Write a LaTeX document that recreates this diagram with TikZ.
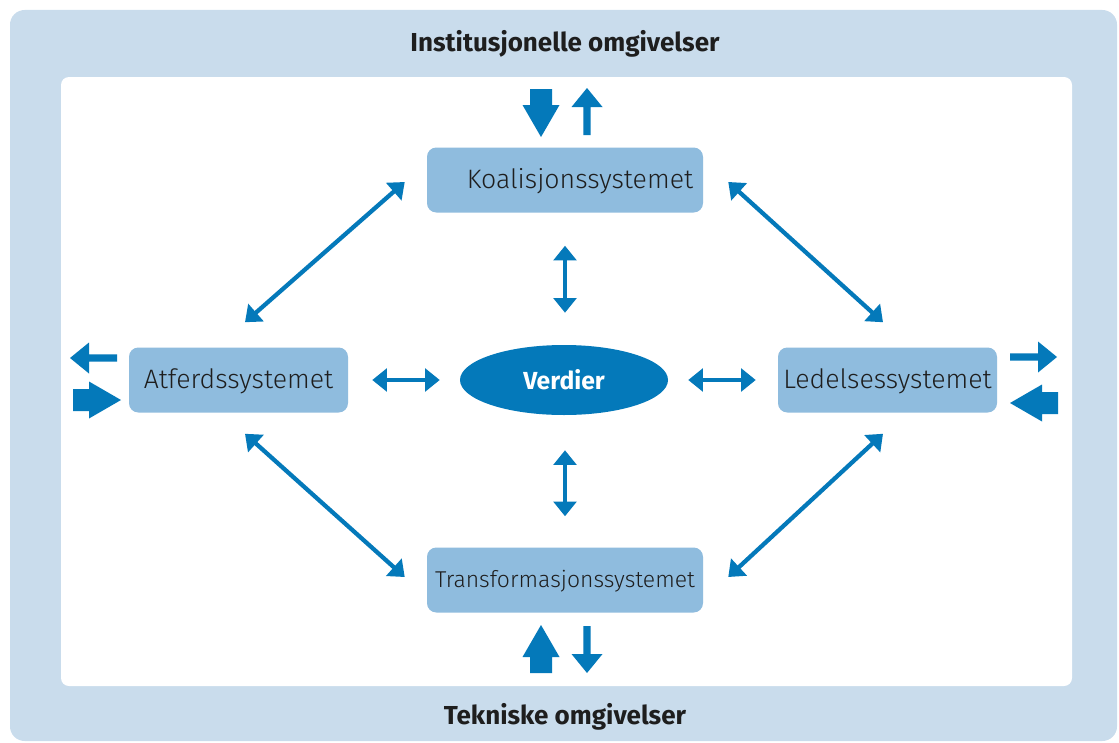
\documentclass[tikz,border=0pt]{standalone}
\usepackage{fontspec}
\setmainfont{Fira Sans}
\newfontfamily\lightfont{Fira Sans}[UprightFont=* Light, BoldFont=* Bold]
\usetikzlibrary{arrows.meta,shapes.geometric}
\definecolor{outerblue}{HTML}{C9DCEC}
\definecolor{boxblue}{HTML}{8FBCDE}
\definecolor{arrowblue}{HTML}{0479BA}
\definecolor{txt}{HTML}{1E1E1E}
\tikzset{
  sysbox/.style={fill=boxblue, rounded corners=7pt, minimum width=206.25pt, minimum height=48.75pt, inner sep=0pt},
  systext/.style={text=txt, font=\lightfont\fontsize{20}{23}\selectfont, inner sep=0pt},
  titletext/.style={text=txt, font=\bfseries\fontsize{19.5}{22}\selectfont, inner sep=0pt},
  dbl/.style={draw=arrowblue, line width=3.2pt, {Triangle[length=11pt,width=17pt]}-{Triangle[length=11pt,width=17pt]}},
  thickarr/.pic={\fill[arrowblue] (0,-11)--(16,-11)--(16,-18.5)--(48,0)--(16,18.5)--(16,11)--(0,11)--cycle;},
  thinarr/.pic={\fill[arrowblue] (0,-3.7)--(28,-3.7)--(28,-15.5)--(47,0)--(28,15.5)--(28,3.7)--(0,3.7)--cycle;}
}
\begin{document}
\begin{tikzpicture}[x=0.75pt,y=-0.75pt]
\useasboundingbox (0,0) rectangle (1119,742);
\fill[outerblue, rounded corners=11pt] (10,10) rectangle (1117,741);
\fill[white, rounded corners=6pt] (61,77) rectangle (1072,686);
\node[titletext] (inst) at (565,44) {Institusjonelle omgivelser};
\node[titletext] (tek) at (565,717) {Tekniske omgivelser};
% boxes
\node[sysbox, minimum width=207pt] (koal) at (565,180) {};
\node[systext] (koalt) at (580,181) {Koalisjonssystemet};
\node[sysbox, minimum width=164.25pt] (atf) at (238.5,380) {};
\node[systext] (atft) at (238.5,381) {Atferdssystemet};
\node[sysbox, minimum width=164.25pt] (led) at (887.5,380) {};
\node[systext] (ledt) at (887.5,381) {Ledelsessystemet};
\node[sysbox, minimum width=207pt] (trans) at (565,580) {};
\node[systext, font=\lightfont\fontsize{17.2}{20}\selectfont] (transt) at (565,581) {Transformasjonssystemet};
\node[ellipse, fill=arrowblue, minimum width=156pt, minimum height=52.5pt, inner sep=0pt, text=white, font=\bfseries\fontsize{18.5}{22}\selectfont] (ver) at (564,380) {Verdier};
% connectors
\draw[dbl] ([shift={(6.5,-25)}]atf.north) -- ([shift={(-22,2)}]koal.west);
\draw[dbl] ([shift={(25,2)}]koal.east) -- ([shift={(-4.5,-25)}]led.north);
\draw[dbl] ([shift={(6.5,21)}]atf.south) -- ([shift={(-22,-3)}]trans.west);
\draw[dbl] ([shift={(-4.5,21)}]led.south) -- ([shift={(25,-3)}]trans.east);
\draw[dbl] ([shift={(0,33)}]koal.south) -- ([shift={(1,-32)}]ver.north);
\draw[dbl] ([shift={(1,35)}]ver.south) -- ([shift={(0,-31)}]trans.north);
\draw[dbl] ([shift={(24,0)}]atf.east) -- ([shift={(-20,0)}]ver.west);
\draw[dbl] ([shift={(20,0)}]ver.east) -- ([shift={(-22,0)}]led.west);
% environment arrows
\pic[rotate=-90] at (541,89) {thickarr};
\pic[rotate=90] at (587,135) {thinarr};
\pic[rotate=90] at (541,673) {thickarr};
\pic[rotate=-90] at (587,626) {thinarr};
\pic[rotate=180] at (117,358) {thinarr};
\pic at (73,400) {thickarr};
\pic at (1010,357) {thinarr};
\pic[rotate=180] at (1058,403) {thickarr};
\end{tikzpicture}
\end{document}
